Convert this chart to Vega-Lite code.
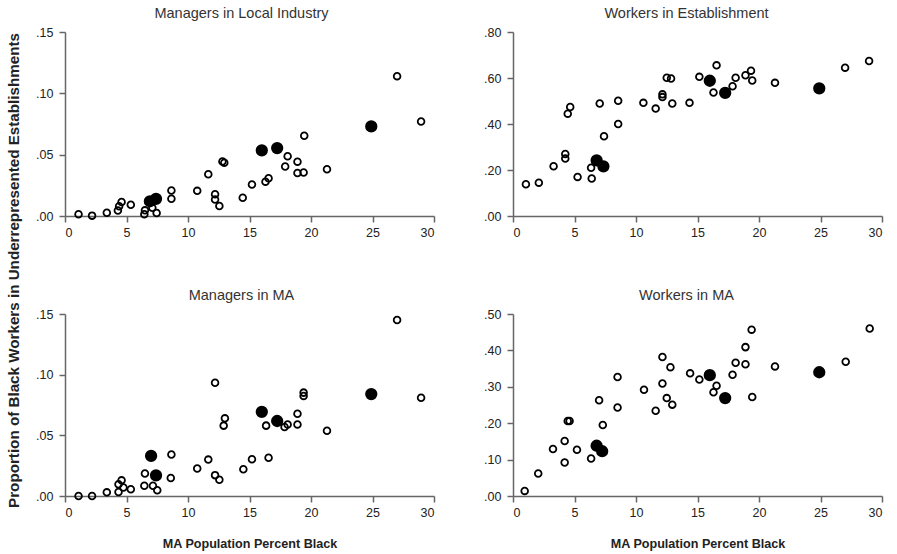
{
  "$schema": "https://vega.github.io/schema/vega-lite/v6.json",
  "padding": {"left": 5, "top": 5, "right": 5, "bottom": 5},
  "background": "white",
  "datasets": {
    "p1": [
      {"x":1.1,"y":0.0014,"t":"h"},{"x":2.2,"y":0.0003,"t":"h"},{"x":3.4,"y":0.0027,"t":"h"},{"x":4.3,"y":0.0045,"t":"h"},{"x":4.4,"y":0.0079,"t":"h"},{"x":4.6,"y":0.0114,"t":"h"},{"x":5.35,"y":0.0092,"t":"h"},{"x":6.45,"y":0.0014,"t":"h"},{"x":6.5,"y":0.0046,"t":"h"},{"x":7.1,"y":0.0067,"t":"h"},{"x":7.45,"y":0.0024,"t":"h"},{"x":8.65,"y":0.0208,"t":"h"},{"x":8.65,"y":0.014,"t":"h"},{"x":10.75,"y":0.0205,"t":"h"},{"x":11.65,"y":0.034,"t":"h"},{"x":12.2,"y":0.0178,"t":"h"},{"x":12.2,"y":0.0135,"t":"h"},{"x":12.55,"y":0.0081,"t":"h"},{"x":12.8,"y":0.0445,"t":"h"},{"x":12.95,"y":0.0435,"t":"h"},{"x":14.45,"y":0.0149,"t":"h"},{"x":15.2,"y":0.0257,"t":"h"},{"x":16.3,"y":0.028,"t":"h"},{"x":16.55,"y":0.0308,"t":"h"},{"x":17.9,"y":0.0403,"t":"h"},{"x":18.1,"y":0.0487,"t":"h"},{"x":18.9,"y":0.0443,"t":"h"},{"x":18.9,"y":0.0351,"t":"h"},{"x":19.4,"y":0.0354,"t":"h"},{"x":19.45,"y":0.0654,"t":"h"},{"x":21.3,"y":0.0381,"t":"h"},{"x":27.0,"y":0.114,"t":"h"},{"x":28.95,"y":0.077,"t":"h"},
      {"x":6.9,"y":0.012,"t":"f"},{"x":7.4,"y":0.014,"t":"f"},{"x":16.0,"y":0.0535,"t":"f"},{"x":17.25,"y":0.0554,"t":"f"},{"x":24.9,"y":0.073,"t":"f"}
    ],
    "p2": [
      {"x":1.05,"y":0.138,"t":"h"},{"x":2.1,"y":0.145,"t":"h"},{"x":3.3,"y":0.216,"t":"h"},{"x":4.25,"y":0.27,"t":"h"},{"x":4.25,"y":0.25,"t":"h"},{"x":4.45,"y":0.445,"t":"h"},{"x":4.65,"y":0.474,"t":"h"},{"x":5.25,"y":0.17,"t":"h"},{"x":6.35,"y":0.21,"t":"h"},{"x":6.4,"y":0.163,"t":"h"},{"x":7.05,"y":0.489,"t":"h"},{"x":7.4,"y":0.347,"t":"h"},{"x":8.55,"y":0.501,"t":"h"},{"x":8.55,"y":0.4,"t":"h"},{"x":10.6,"y":0.492,"t":"h"},{"x":11.6,"y":0.467,"t":"h"},{"x":12.15,"y":0.529,"t":"h"},{"x":12.15,"y":0.517,"t":"h"},{"x":12.5,"y":0.601,"t":"h"},{"x":12.85,"y":0.598,"t":"h"},{"x":12.95,"y":0.489,"t":"h"},{"x":14.35,"y":0.492,"t":"h"},{"x":15.15,"y":0.605,"t":"h"},{"x":16.3,"y":0.537,"t":"h"},{"x":16.55,"y":0.655,"t":"h"},{"x":17.85,"y":0.564,"t":"h"},{"x":18.1,"y":0.601,"t":"h"},{"x":18.9,"y":0.612,"t":"h"},{"x":19.35,"y":0.632,"t":"h"},{"x":19.45,"y":0.589,"t":"h"},{"x":21.3,"y":0.579,"t":"h"},{"x":27.0,"y":0.645,"t":"h"},{"x":28.95,"y":0.674,"t":"h"},
      {"x":6.8,"y":0.242,"t":"f"},{"x":7.35,"y":0.216,"t":"f"},{"x":16.0,"y":0.588,"t":"f"},{"x":17.25,"y":0.535,"t":"f"},{"x":24.9,"y":0.555,"t":"f"}
    ],
    "p3": [
      {"x":1.1,"y":0.0,"t":"h"},{"x":2.2,"y":0.0,"t":"h"},{"x":3.4,"y":0.003,"t":"h"},{"x":4.35,"y":0.0033,"t":"h"},{"x":4.35,"y":0.0096,"t":"h"},{"x":4.6,"y":0.0129,"t":"h"},{"x":4.75,"y":0.007,"t":"h"},{"x":5.35,"y":0.0055,"t":"h"},{"x":6.45,"y":0.0085,"t":"h"},{"x":6.5,"y":0.0186,"t":"h"},{"x":7.15,"y":0.0085,"t":"h"},{"x":7.5,"y":0.0047,"t":"h"},{"x":8.65,"y":0.0342,"t":"h"},{"x":8.6,"y":0.0148,"t":"h"},{"x":10.75,"y":0.0227,"t":"h"},{"x":11.65,"y":0.03,"t":"h"},{"x":12.2,"y":0.0934,"t":"h"},{"x":12.2,"y":0.0172,"t":"h"},{"x":12.55,"y":0.0134,"t":"h"},{"x":13.0,"y":0.064,"t":"h"},{"x":12.9,"y":0.058,"t":"h"},{"x":14.5,"y":0.0221,"t":"h"},{"x":15.2,"y":0.0303,"t":"h"},{"x":16.35,"y":0.058,"t":"h"},{"x":16.55,"y":0.0315,"t":"h"},{"x":17.85,"y":0.0569,"t":"h"},{"x":18.1,"y":0.059,"t":"h"},{"x":18.9,"y":0.0678,"t":"h"},{"x":18.9,"y":0.059,"t":"h"},{"x":19.4,"y":0.0852,"t":"h"},{"x":19.4,"y":0.0825,"t":"h"},{"x":21.3,"y":0.0538,"t":"h"},{"x":27.0,"y":0.145,"t":"h"},{"x":28.95,"y":0.081,"t":"h"},
      {"x":7.0,"y":0.033,"t":"f"},{"x":7.4,"y":0.017,"t":"f"},{"x":16.0,"y":0.0694,"t":"f"},{"x":17.25,"y":0.0618,"t":"f"},{"x":24.9,"y":0.084,"t":"f"}
    ],
    "p4": [
      {"x":0.95,"y":0.014,"t":"h"},{"x":2.05,"y":0.062,"t":"h"},{"x":3.25,"y":0.129,"t":"h"},{"x":4.2,"y":0.151,"t":"h"},{"x":4.2,"y":0.092,"t":"h"},{"x":4.45,"y":0.206,"t":"h"},{"x":4.6,"y":0.206,"t":"h"},{"x":5.2,"y":0.127,"t":"h"},{"x":6.35,"y":0.103,"t":"h"},{"x":7.0,"y":0.263,"t":"h"},{"x":7.3,"y":0.195,"t":"h"},{"x":8.5,"y":0.327,"t":"h"},{"x":8.5,"y":0.243,"t":"h"},{"x":10.65,"y":0.292,"t":"h"},{"x":11.6,"y":0.234,"t":"h"},{"x":12.15,"y":0.382,"t":"h"},{"x":12.15,"y":0.309,"t":"h"},{"x":12.5,"y":0.269,"t":"h"},{"x":12.8,"y":0.354,"t":"h"},{"x":12.95,"y":0.251,"t":"h"},{"x":14.4,"y":0.337,"t":"h"},{"x":15.15,"y":0.32,"t":"h"},{"x":16.3,"y":0.285,"t":"h"},{"x":16.55,"y":0.303,"t":"h"},{"x":17.85,"y":0.333,"t":"h"},{"x":18.1,"y":0.366,"t":"h"},{"x":18.9,"y":0.362,"t":"h"},{"x":18.9,"y":0.409,"t":"h"},{"x":19.4,"y":0.457,"t":"h"},{"x":19.45,"y":0.272,"t":"h"},{"x":21.3,"y":0.356,"t":"h"},{"x":27.05,"y":0.369,"t":"h"},{"x":29.0,"y":0.46,"t":"h"},
      {"x":6.8,"y":0.138,"t":"f"},{"x":7.25,"y":0.123,"t":"f"},{"x":16.0,"y":0.332,"t":"f"},{"x":17.25,"y":0.269,"t":"f"},{"x":24.9,"y":0.34,"t":"f"}
    ]
  },
  "columns": 2,
  "bounds": "flush",
  "spacing": {"column": 79, "row": 98},
  "concat": [
    {
      "data": {"name": "p1"},
      "title": {"text": "Managers in Local Industry", "dx": -8},
      "width": 369, "height": 184,
      "mark": {"type": "point", "shape": "circle", "filled": true, "stroke": "black", "strokeWidth": 1.8, "opacity": 1},
      "encoding": {
        "x": {"field": "x", "type": "quantitative", "scale": {"domain": [0, 30], "nice": false}, "axis": {"values": [0,5,10,15,20,25,30], "title": null}},
        "y": {"field": "y", "type": "quantitative", "scale": {"domain": [0, 0.15], "nice": false}, "axis": {"values": [0,0.05,0.1,0.15], "labelExpr": "substring(format(datum.value,'.2f'),1)", "title": "Proportion of Black Workers in Underrepresented Establishments", "titleX": -52, "titleY": 238, "titleAlign": "center", "titleBaseline": "middle", "titleAngle": -90, "titleFontSize": 15.2}},
        "fill": {"condition": {"test": "datum.t=='f'", "value": "black"}, "value": "transparent"},
        "size": {"condition": {"test": "datum.t=='f'", "value": 110}, "value": 45}
      }
    },
    {
      "data": {"name": "p2"},
      "title": {"text": "Workers in Establishment", "dx": -11},
      "width": 369, "height": 184,
      "mark": {"type": "point", "shape": "circle", "filled": true, "stroke": "black", "strokeWidth": 1.8, "opacity": 1},
      "encoding": {
        "x": {"field": "x", "type": "quantitative", "scale": {"domain": [0, 30], "nice": false}, "axis": {"values": [0,5,10,15,20,25,30], "title": null}},
        "y": {"field": "y", "type": "quantitative", "scale": {"domain": [0, 0.8], "nice": false}, "axis": {"values": [0,0.2,0.4,0.6,0.8], "labelExpr": "substring(format(datum.value,'.2f'),1)", "title": null}},
        "fill": {"condition": {"test": "datum.t=='f'", "value": "black"}, "value": "transparent"},
        "size": {"condition": {"test": "datum.t=='f'", "value": 110}, "value": 45}
      }
    },
    {
      "data": {"name": "p3"},
      "title": {"text": "Managers in MA", "dx": -8},
      "width": 369, "height": 182,
      "mark": {"type": "point", "shape": "circle", "filled": true, "stroke": "black", "strokeWidth": 1.8, "opacity": 1},
      "encoding": {
        "x": {"field": "x", "type": "quantitative", "scale": {"domain": [0, 30], "nice": false}, "axis": {"values": [0,5,10,15,20,25,30], "title": "MA Population Percent Black"}},
        "y": {"field": "y", "type": "quantitative", "scale": {"domain": [0, 0.15], "nice": false}, "axis": {"values": [0,0.05,0.1,0.15], "labelExpr": "substring(format(datum.value,'.2f'),1)", "title": null}},
        "fill": {"condition": {"test": "datum.t=='f'", "value": "black"}, "value": "transparent"},
        "size": {"condition": {"test": "datum.t=='f'", "value": 110}, "value": 45}
      }
    },
    {
      "data": {"name": "p4"},
      "title": {"text": "Workers in MA", "dx": -11},
      "width": 369, "height": 182,
      "mark": {"type": "point", "shape": "circle", "filled": true, "stroke": "black", "strokeWidth": 1.8, "opacity": 1},
      "encoding": {
        "x": {"field": "x", "type": "quantitative", "scale": {"domain": [0, 30], "nice": false}, "axis": {"values": [0,5,10,15,20,25,30], "title": "MA Population Percent Black"}},
        "y": {"field": "y", "type": "quantitative", "scale": {"domain": [0, 0.5], "nice": false}, "axis": {"values": [0,0.1,0.2,0.3,0.4,0.5], "labelExpr": "substring(format(datum.value,'.2f'),1)", "title": null}},
        "fill": {"condition": {"test": "datum.t=='f'", "value": "black"}, "value": "transparent"},
        "size": {"condition": {"test": "datum.t=='f'", "value": 110}, "value": 45}
      }
    }
  ],
  "config": {
    "font": "Liberation Sans",
    "view": {"stroke": null},
    "axis": {"grid": false, "domainColor": "#666", "domainWidth": 1.5, "tickColor": "#666", "tickWidth": 1.5, "tickSize": 6, "labelFont": "Liberation Sans", "labelFontSize": 12.5, "labelColor": "#222", "titleFont": "Liberation Sans", "titleFontSize": 12.6, "titleFontWeight": "bold", "titleColor": "#222"},
    "axisX": {"labelPadding": 4, "titlePadding": 19},
    "axisY": {"labelPadding": 6},
    "title": {"font": "Liberation Sans", "fontSize": 14.5, "fontWeight": "normal", "color": "#333", "offset": 5}
  }
}
